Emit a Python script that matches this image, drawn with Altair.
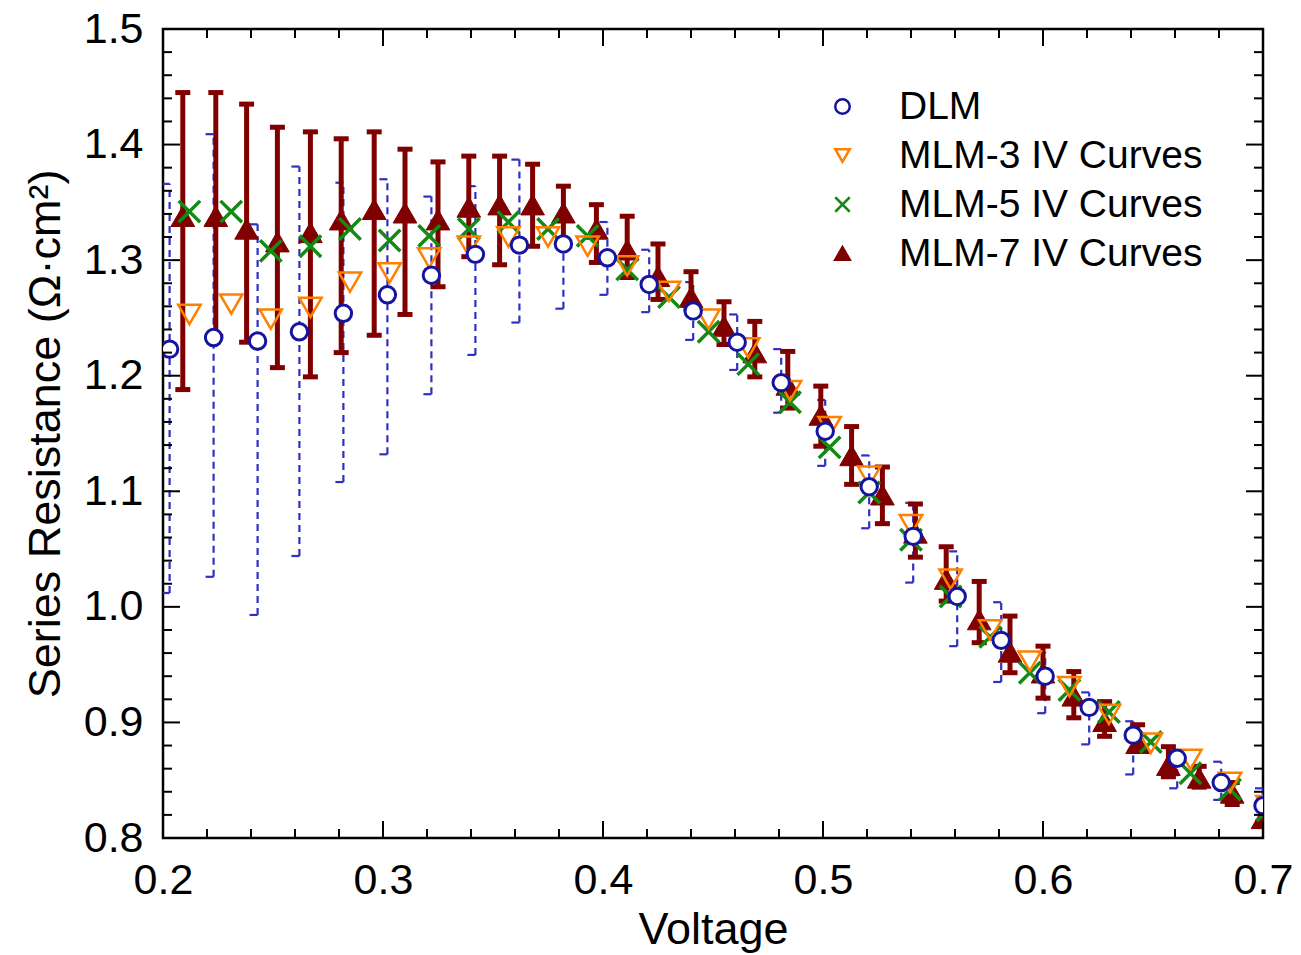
import altair as alt
import pandas as pd

# ---------------- data ----------------
dlm_x = [0.203, 0.223, 0.243, 0.262, 0.282, 0.302, 0.322, 0.342, 0.362, 0.382, 0.402, 0.421, 0.441,
         0.461, 0.481, 0.501, 0.521, 0.541, 0.561, 0.581, 0.601, 0.621, 0.641, 0.661, 0.681, 0.700]
dlm_y = [1.223, 1.233, 1.230, 1.238, 1.254, 1.270, 1.287, 1.305, 1.313, 1.314, 1.302, 1.279, 1.256,
         1.229, 1.194, 1.152, 1.104, 1.061, 1.009, 0.971, 0.940, 0.913, 0.889, 0.869, 0.848, 0.828]
dlm_hi = [1.366, 1.409, 1.331, 1.381, 1.367, 1.370, 1.355, 1.364, 1.387, 1.335, 1.333, 1.309, 1.281,
          1.253, 1.223, 1.179, 1.131, 1.090, 1.048, 1.004, 0.961, 0.926, 0.901, 0.876, 0.866, 0.843]
dlm_lo = [1.012, 1.026, 0.993, 1.044, 1.108, 1.132, 1.184, 1.218, 1.246, 1.258, 1.270, 1.255, 1.231,
          1.205, 1.168, 1.122, 1.068, 1.021, 0.966, 0.935, 0.908, 0.881, 0.855, 0.843, 0.833, 0.815]

mlm35_x = [0.212, 0.231, 0.249, 0.267, 0.285, 0.303, 0.321, 0.339, 0.357, 0.375, 0.393, 0.411, 0.430, 0.448,
           0.466, 0.485, 0.503, 0.521, 0.540, 0.558, 0.576, 0.594, 0.612, 0.630, 0.649, 0.667, 0.685, 0.702]
mlm3_y = [1.253, 1.262, 1.249, 1.259, 1.281, 1.289, 1.302, 1.312, 1.320, 1.320, 1.312, 1.295, 1.273, 1.249,
          1.224, 1.187, 1.156, 1.113, 1.071, 1.024, 0.980, 0.953, 0.931, 0.907, 0.882, 0.868, 0.848, 0.828]
mlm5_y = [1.342, 1.342, 1.308, 1.312, 1.327, 1.317, 1.321, 1.327, 1.333, 1.327, 1.321, 1.292, 1.268, 1.238,
          1.210, 1.177, 1.138, 1.099, 1.058, 1.009, 0.974, 0.943, 0.928, 0.909, 0.883, 0.856, 0.842, 0.824]

mlm7_x = [0.209, 0.224, 0.238, 0.252, 0.267, 0.281, 0.296, 0.310, 0.325, 0.339, 0.353, 0.368, 0.382, 0.397,
          0.411, 0.425, 0.440, 0.455, 0.469, 0.484, 0.499, 0.513, 0.527, 0.542, 0.556, 0.571, 0.585, 0.600,
          0.614, 0.628, 0.643, 0.657, 0.671, 0.686, 0.700]
mlm7_y = [1.338, 1.338, 1.327, 1.316, 1.324, 1.335, 1.344, 1.341, 1.335, 1.346, 1.348, 1.348, 1.341, 1.327,
          1.309, 1.286, 1.268, 1.243, 1.220, 1.192, 1.166, 1.131, 1.097, 1.064, 1.024, 0.989, 0.961, 0.943,
          0.923, 0.901, 0.882, 0.863, 0.852, 0.839, 0.817]
mlm7_hi = [1.445, 1.445, 1.435, 1.415, 1.411, 1.405, 1.411, 1.396, 1.385, 1.390, 1.390, 1.383, 1.364, 1.348,
           1.338, 1.314, 1.290, 1.264, 1.247, 1.221, 1.191, 1.156, 1.121, 1.089, 1.052, 1.022, 0.992, 0.966,
           0.944, 0.918, 0.898, 0.879, 0.862, 0.848, 0.830]
mlm7_lo = [1.188, 1.234, 1.229, 1.207, 1.199, 1.220, 1.235, 1.253, 1.277, 1.303, 1.296, 1.312, 1.315, 1.298,
           1.285, 1.266, 1.258, 1.227, 1.199, 1.172, 1.139, 1.106, 1.072, 1.043, 1.005, 0.969, 0.943, 0.921,
           0.904, 0.888, 0.875, 0.853, 0.844, 0.829, 0.810]

series_names = ["DLM", "MLM-3 IV Curves", "MLM-5 IV Curves", "MLM-7 IV Curves"]

x_major = [0.2, 0.3, 0.4, 0.5, 0.6, 0.7]
x_minor = [0.22, 0.24, 0.26, 0.28, 0.32, 0.34, 0.36, 0.38, 0.42, 0.44, 0.46, 0.48,
           0.52, 0.54, 0.56, 0.58, 0.62, 0.64, 0.66, 0.68]
y_major = [0.8, 0.9, 1.0, 1.1, 1.2, 1.3, 1.4, 1.5]
y_minor = [0.82, 0.84, 0.86, 0.88, 0.92, 0.94, 0.96, 0.98, 1.02, 1.04, 1.06, 1.08,
           1.12, 1.14, 1.16, 1.18, 1.22, 1.24, 1.26, 1.28, 1.32, 1.34, 1.36, 1.38,
           1.42, 1.44, 1.46, 1.48]

# ---------------- tables ----------------
dlm_df = pd.DataFrame({"v": dlm_x, "r": dlm_y, "hi": dlm_hi, "lo": dlm_lo, "series": series_names[0]})
m3_df = pd.DataFrame({"v": mlm35_x, "r": mlm3_y, "series": series_names[1]})
m5_df = pd.DataFrame({"v": mlm35_x, "r": mlm5_y, "series": series_names[2]})
m7_df = pd.DataFrame({"v": mlm7_x, "r": mlm7_y, "hi": mlm7_hi, "lo": mlm7_lo, "series": series_names[3]})

FONT = "Liberation Sans"
BLUE = "#1414a0"
BLUE_BAR = "#3030c0"
ORANGE = "#ff8000"
GREEN = "#138a13"
RED = "#800000"
W, H = 1100, 809

xscale = alt.Scale(domain=[0.2, 0.7], nice=False, zero=False)
yscale = alt.Scale(domain=[0.8, 1.5], nice=False, zero=False)
xaxis = alt.Axis(values=x_major, format=".1f", ticks=False, tickSize=0, domain=False, grid=False,
                 labelPadding=21, labelFlush=False, labelOverlap=False, labelFontSize=43,
                 title="Voltage", titleFontSize=45, titleFontWeight="normal",
                 titleY=105, titleBaseline="alphabetic")
yaxis = alt.Axis(values=y_major, format=".1f", ticks=False, tickSize=0, domain=False, grid=False,
                 labelPadding=20, labelFlush=False, labelOverlap=False, labelFontSize=43,
                 title="Series Resistance (Ω·cm²)", titleFontSize=45, titleFontWeight="normal",
                 titleAngle=270, titleX=-104, titleY=H / 2, titleAlign="center",
                 titleBaseline="alphabetic")


def X(f):
    return alt.X(f"{f}:Q", scale=xscale, axis=xaxis)


def Y(f):
    return alt.Y(f"{f}:Q", scale=yscale, axis=yaxis)


shape_scale = alt.Scale(domain=series_names,
                        range=["circle", "triangle-down", "M-1,-1L1,1M-1,1L1,-1", "triangle-up"])
stroke_scale = alt.Scale(domain=series_names, range=[BLUE, ORANGE, GREEN, RED])
fill_scale = alt.Scale(domain=series_names, range=["white", "transparent", "transparent", RED])


def points(df, size, sw):
    return alt.Chart(df).mark_point(size=size, strokeWidth=sw, opacity=1, clip=True).encode(
        x=X("v"), y=Y("r"),
        shape=alt.Shape("series:N", scale=shape_scale, title=None),
        stroke=alt.Stroke("series:N", scale=stroke_scale, title=None),
        fill=alt.Fill("series:N", scale=fill_scale, title=None),
    )


layers = []
# DLM dashed error bars with left-half caps
layers.append(alt.Chart(dlm_df).mark_rule(color=BLUE_BAR, strokeWidth=2.2, strokeDash=[7, 5], clip=True)
              .encode(x=X("v"), y=Y("lo"), y2="hi"))
for f in ["hi", "lo"]:
    layers.append(alt.Chart(dlm_df).mark_tick(orient="horizontal", size=8, thickness=2.2, xOffset=-4,
                                              color=BLUE_BAR, opacity=1, clip=True)
                  .encode(x=X("v"), y=Y(f)))
# MLM-7 error bars
layers.append(alt.Chart(m7_df).mark_rule(color=RED, strokeWidth=5, clip=True)
              .encode(x=X("v"), y=Y("lo"), y2="hi"))
for f in ["hi", "lo"]:
    layers.append(alt.Chart(m7_df).mark_tick(orient="horizontal", size=15, thickness=5,
                                             color=RED, opacity=1, clip=True)
                  .encode(x=X("v"), y=Y(f)))
# markers
layers.append(points(m7_df, 560, 1))
layers.append(points(m5_df, 460, 3.5))
layers.append(points(m3_df, 500, 2.5))
layers.append(points(dlm_df, 270, 3))

# inward tick marks on all four sides
ymaj = pd.DataFrame({"v": y_major})
ymin = pd.DataFrame({"v": y_minor})
xmaj = pd.DataFrame({"v": x_major})
xmin = pd.DataFrame({"v": x_minor})
for df, L in [(ymaj, 17), (ymin, 9)]:
    layers.append(alt.Chart(df).mark_rule(color="black", strokeWidth=2)
                  .encode(y=Y("v"), x=alt.value(0), x2=alt.value(L)))
    layers.append(alt.Chart(df).mark_rule(color="black", strokeWidth=2)
                  .encode(y=Y("v"), x=alt.value(W), x2=alt.value(W - L)))
for df, L in [(xmaj, 17), (xmin, 9)]:
    layers.append(alt.Chart(df).mark_rule(color="black", strokeWidth=2)
                  .encode(x=X("v"), y=alt.value(H), y2=alt.value(H - L)))
    layers.append(alt.Chart(df).mark_rule(color="black", strokeWidth=2)
                  .encode(x=X("v"), y=alt.value(0), y2=alt.value(L)))

chart = alt.layer(*layers).properties(
    width=W, height=H,
    padding={"left": 163, "top": 29, "right": 38, "bottom": 117},
    autosize=alt.AutoSizeParams(type="none"),
    background="white",
).configure_view(
    stroke="black", strokeWidth=2.5
).configure_axis(
    labelFont=FONT, titleFont=FONT, labelColor="black", titleColor="black"
).configure_legend(
    orient="none", legendX=660, legendY=58, padding=0,
    labelFont=FONT, labelFontSize=39, labelColor="black", labelOffset=37, labelLimit=0,
    symbolSize=210, symbolStrokeWidth=2.5, rowPadding=9,
)

chart.save("out.html", embed_options={"renderer": "svg", "actions": False})
